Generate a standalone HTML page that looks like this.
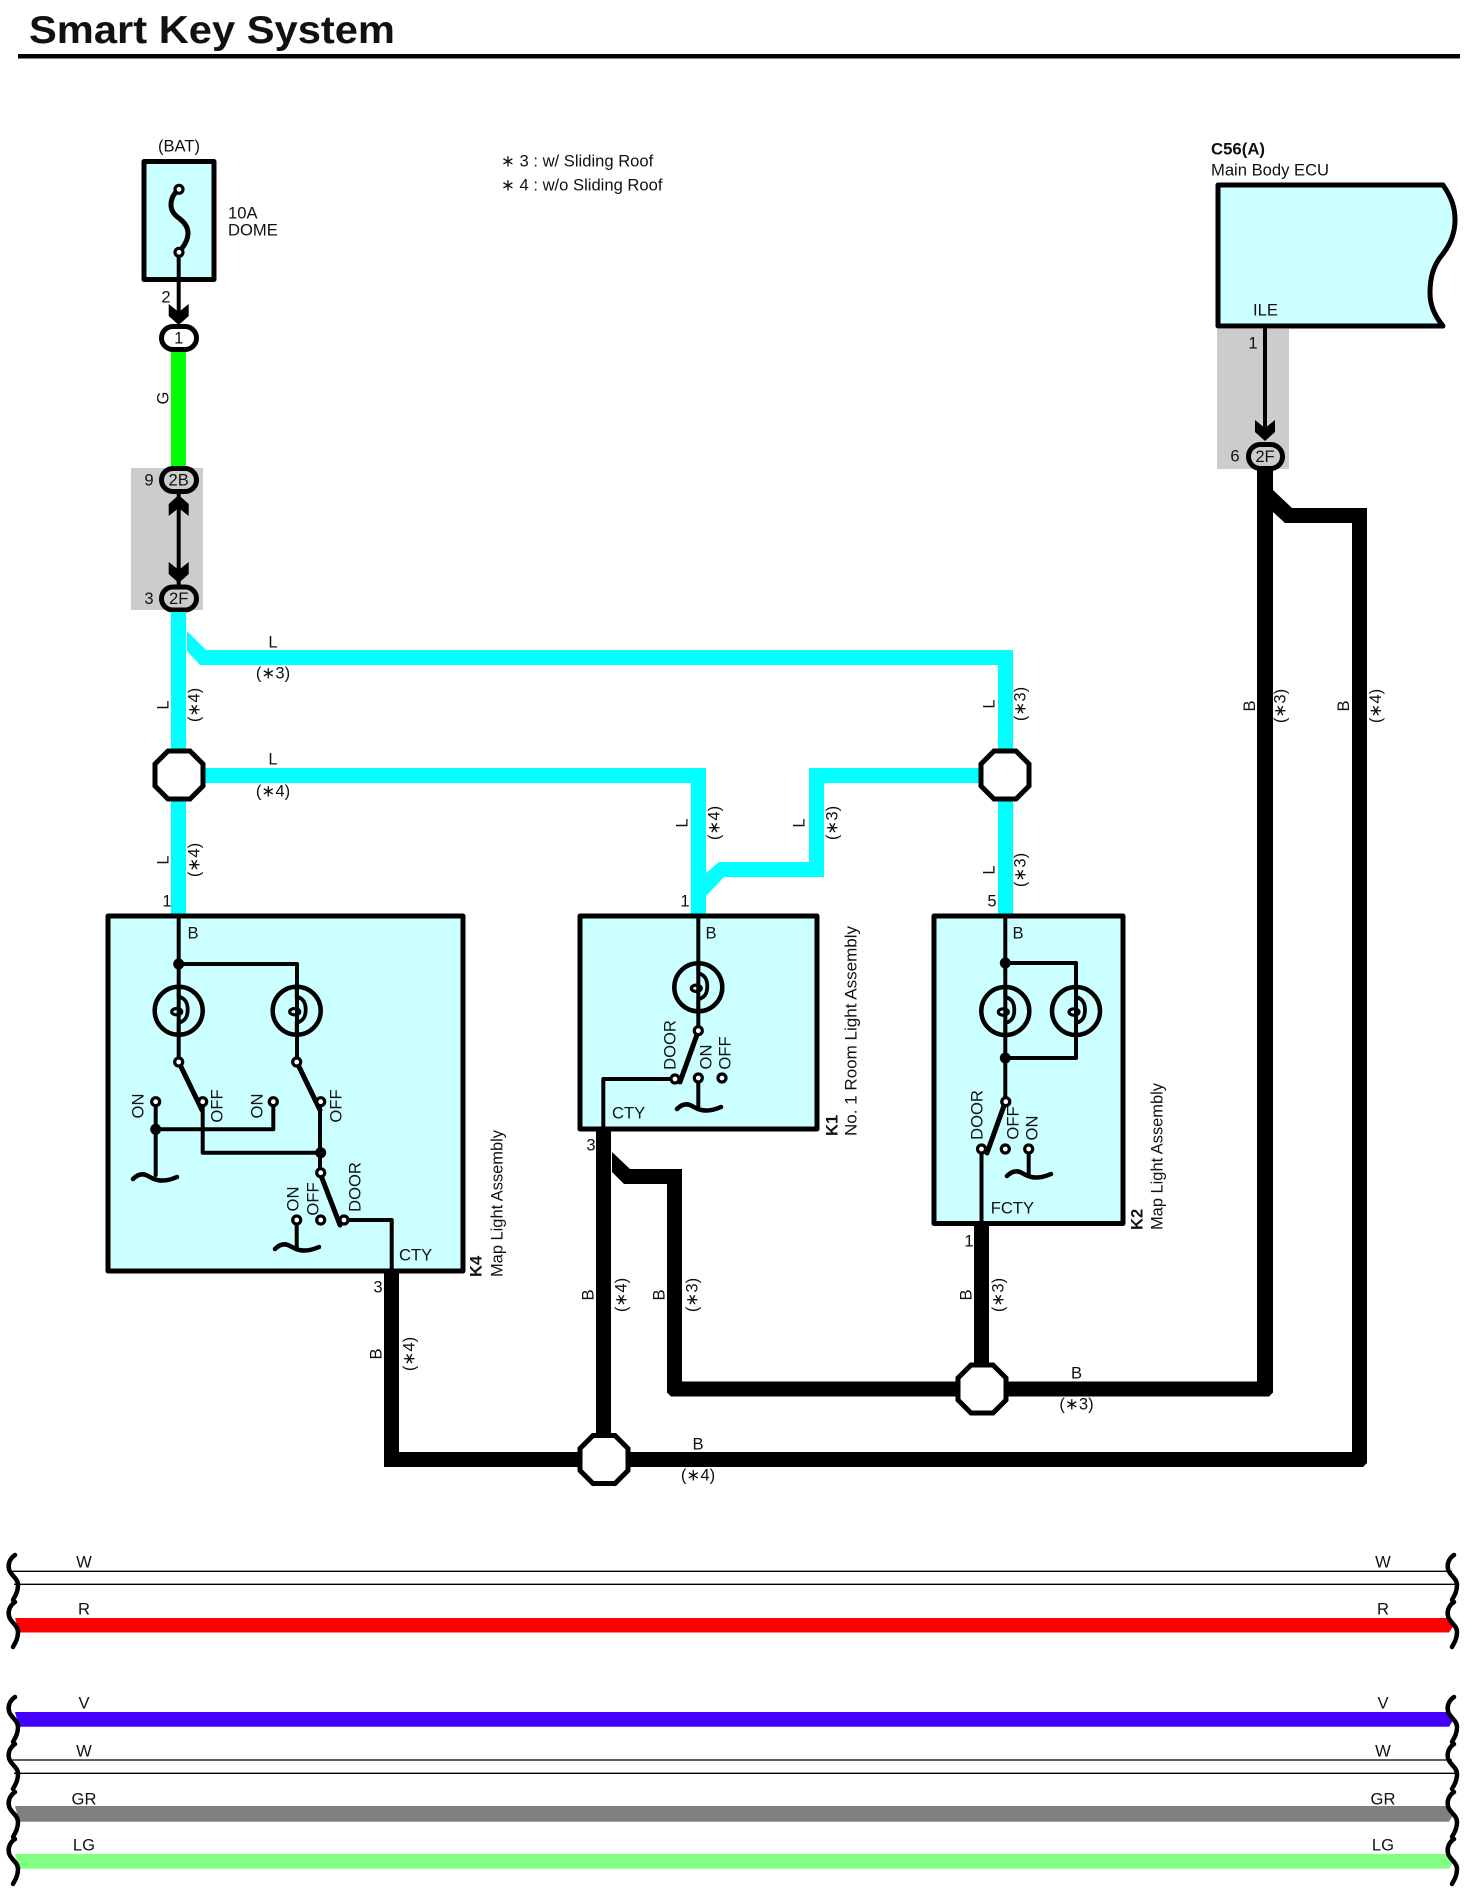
<!DOCTYPE html>
<html><head><meta charset="utf-8"><title>Smart Key System</title>
<style>
html,body{margin:0;padding:0;background:#fff}
svg{display:block}
text{font-family:"Liberation Sans",Arial,sans-serif;font-size:16.6px;fill:#111}
.c{text-anchor:middle;dominant-baseline:central}
.l{dominant-baseline:central}
.b{font-weight:bold}
.k{fill:none;stroke:#000;stroke-width:4;stroke-linejoin:round;stroke-linecap:round}
.box{fill:#ccffff;stroke:#000;stroke-width:5;stroke-linejoin:round}
.t{fill:#fff;stroke:#000;stroke-width:3.2}
.ov{fill:#fff;stroke:#000;stroke-width:5}
.ovg{fill:#ccc;stroke:#000;stroke-width:5}
.oct{fill:#fff;stroke:#000;stroke-width:5}
</style></head><body>
<svg width="1473" height="1902" viewBox="0 0 1473 1902" xmlns="http://www.w3.org/2000/svg">
<defs>
<g id="lamp"><circle r="24" fill="none" stroke="#000" stroke-width="4.5"/>
<path d="M0,-24V-14C8,-12 9,-6 9,-1S8,10 0,12V24" fill="none" stroke="#000" stroke-width="3.8"/>
<ellipse cx="-2" cy="1" rx="5" ry="3.2" fill="none" stroke="#000" stroke-width="3.2"/></g>
<path id="gnd" d="M0,4C5,-1 10,-2 15,1S28,9 44,2" fill="none" stroke="#000" stroke-width="4.5" stroke-linecap="round"/>
<path id="brace" d="M15,1555C9,1559 8,1565 9,1569C10,1575 18,1578 18,1585C18,1592 15,1596 13,1600" fill="none" stroke="#000" stroke-width="4.5" stroke-linecap="round"/>
<polygon id="arrow" points="-10,-11 0,-3 10,-11 10,1 0,10 -10,1"/>
<polygon id="octa" points="-11,-24 11,-24 24,-11 24,11 11,24 -11,24 -24,11 -24,-11"/>
</defs>

<!-- title -->
<text x="29" y="43" class="b" style="font-size:39px" textLength="366" lengthAdjust="spacingAndGlyphs">Smart Key System</text>
<rect x="18" y="54" width="1442" height="4.5" fill="#000"/>

<!-- grey connector zones -->
<rect x="131" y="468" width="72" height="142" fill="#ccc"/>
<rect x="1217" y="329" width="72" height="140" fill="#ccc"/>

<!-- fuse -->
<text x="179" y="146" class="c">(BAT)</text>
<rect x="144" y="161.5" width="70" height="118" class="box"/>
<path d="M179,189.3C173,194 171,199 171,205C171,212 176,216 180,219C185,223 188,228 188,233C188,241 183,247 179,252.3" fill="none" stroke="#000" stroke-width="5"/>
<path d="M178.7,252V318" class="k"/>
<circle cx="179" cy="189.3" r="4" class="t"/><circle cx="179" cy="252.3" r="4" class="t"/>
<use href="#arrow" transform="translate(178.7,315)"/>
<text x="228" y="213" class="l">10A</text>
<text x="228" y="230" class="l">DOME</text>
<text x="166" y="297" class="c">2</text>

<!-- green wire + connectors -->
<rect x="171" y="351" width="15" height="117" fill="#00ff00"/>
<rect x="161.5" y="326.5" width="35" height="23" rx="11.5" class="ov"/>
<text x="178.7" y="338" class="c">1</text>
<text transform="rotate(-90 163 398)" x="163" y="398" class="c">G</text>
<path d="M178.7,490V590" class="k"/>
<use href="#arrow" transform="translate(178.7,505) scale(1,-1)"/>
<use href="#arrow" transform="translate(178.7,573)"/>
<rect x="161.5" y="468.5" width="35" height="23" rx="11.5" class="ovg"/>
<text x="178.7" y="480" class="c">2B</text>
<rect x="161.5" y="587" width="35" height="23" rx="11.5" class="ovg"/>
<text x="178.7" y="598.5" class="c">2F</text>
<text x="149" y="480" class="c">9</text>
<text x="149" y="598.5" class="c">3</text>

<!-- notes -->
<text x="501" y="161" class="l">∗ 3 : w/ Sliding Roof</text>
<text x="501" y="185" class="l">∗ 4 : w/o Sliding Roof</text>

<!-- cyan wires -->
<g fill="#00ffff">
<rect x="171" y="612" width="15" height="303"/>
<polygon points="187,631 206,650 1013,650 1013,750 998,750 998,665 200,665 187,651"/>
<rect x="998" y="800" width="15" height="115"/>
<path d="M200,768H706V915H691V783H200Z"/>
<polygon points="706,873 719,862 809,862 809,768 985,768 985,783 824,783 824,877 724,877 706,896"/>
</g>
<use href="#octa" transform="translate(179,775)" class="oct"/>
<use href="#octa" transform="translate(1005,775)" class="oct"/>

<text x="273" y="642" class="c">L</text><text x="273" y="673" class="c">(∗3)</text>
<text x="273" y="759" class="c">L</text><text x="273" y="791" class="c">(∗4)</text>
<text transform="rotate(-90 163 705)" x="163" y="705" class="c">L</text>
<text transform="rotate(-90 194 705)" x="194" y="705" class="c">(∗4)</text>
<text transform="rotate(-90 163 860)" x="163" y="860" class="c">L</text>
<text transform="rotate(-90 194 860)" x="194" y="860" class="c">(∗4)</text>
<text transform="rotate(-90 682 823)" x="682" y="823" class="c">L</text>
<text transform="rotate(-90 714 823)" x="714" y="823" class="c">(∗4)</text>
<text transform="rotate(-90 799 823)" x="799" y="823" class="c">L</text>
<text transform="rotate(-90 832 823)" x="832" y="823" class="c">(∗3)</text>
<text transform="rotate(-90 989 704)" x="989" y="704" class="c">L</text>
<text transform="rotate(-90 1020 704)" x="1020" y="704" class="c">(∗3)</text>
<text transform="rotate(-90 989 870)" x="989" y="870" class="c">L</text>
<text transform="rotate(-90 1020 870)" x="1020" y="870" class="c">(∗3)</text>
<text x="167" y="901" class="c">1</text><text x="685" y="901" class="c">1</text><text x="992" y="901" class="c">5</text>

<!-- black wires -->
<g fill="#000">
<rect x="384" y="1271" width="15" height="196"/>
<rect x="596" y="1129" width="15" height="315"/>
<polygon points="612,1152 630,1169 682,1169 682,1381.5 960,1381.5 960,1396.5 671,1396.5 667,1392.5 667,1184 624,1184 612,1172"/>
<rect x="974" y="1223" width="15" height="145"/>
<polygon points="1000,1381.5 1257,1381.5 1257,470 1273,470 1273,1392.5 1269,1396.5 1000,1396.5"/>
<polygon points="1273,490 1292,508 1367,508 1367,1463 1363,1467 1352,1467 1352,523 1285,523 1273,512"/>
<polygon points="388,1467 384,1463 384,1452 1360,1452 1360,1467"/>
</g>
<use href="#octa" transform="translate(982,1389)" class="oct"/>
<use href="#octa" transform="translate(604,1459.5)" class="oct"/>

<text transform="rotate(-90 376 1354)" x="376" y="1354" class="c">B</text>
<text transform="rotate(-90 409 1354)" x="409" y="1354" class="c">(∗4)</text>
<text transform="rotate(-90 588 1295)" x="588" y="1295" class="c">B</text>
<text transform="rotate(-90 621 1295)" x="621" y="1295" class="c">(∗4)</text>
<text transform="rotate(-90 659 1295)" x="659" y="1295" class="c">B</text>
<text transform="rotate(-90 692 1295)" x="692" y="1295" class="c">(∗3)</text>
<text transform="rotate(-90 966 1295)" x="966" y="1295" class="c">B</text>
<text transform="rotate(-90 998 1295)" x="998" y="1295" class="c">(∗3)</text>
<text x="1076.5" y="1373" class="c">B</text><text x="1076.5" y="1404" class="c">(∗3)</text>
<text x="698" y="1444" class="c">B</text><text x="698" y="1475" class="c">(∗4)</text>
<text transform="rotate(-90 1249.5 706)" x="1249.5" y="706" class="c">B</text>
<text transform="rotate(-90 1280 706)" x="1280" y="706" class="c">(∗3)</text>
<text transform="rotate(-90 1343.5 706)" x="1343.5" y="706" class="c">B</text>
<text transform="rotate(-90 1375.5 706)" x="1375.5" y="706" class="c">(∗4)</text>

<!-- ECU -->
<text x="1211" y="149" class="l b" textLength="54" lengthAdjust="spacingAndGlyphs">C56(A)</text>
<text x="1211" y="170" class="l">Main Body ECU</text>
<path d="M1218,185H1443C1452,198 1455,208 1455,220C1455,233 1450,245 1442,255C1433,266 1430,278 1430,293C1430,306 1435,316 1443,326H1218Z" class="box"/>
<text x="1253" y="310" class="l">ILE</text>
<text x="1253" y="343" class="c">1</text>
<path d="M1265,328V435" class="k"/>
<use href="#arrow" transform="translate(1265,431)"/>
<rect x="1248.5" y="444.5" width="34" height="24" rx="12" class="ovg"/>
<text x="1265" y="456.5" class="c">2F</text>
<text x="1235" y="456" class="c">6</text>

<!-- K4 -->
<rect x="108" y="916" width="355" height="355" class="box"/>
<g class="k">
<path d="M178.7,916V1062M178.7,964H297V1062"/>
<path d="M155.7,1102V1175M155.7,1129.3H273.3V1102"/>
<path d="M202.7,1102V1152.7H320.7M320,1102V1173"/>
<path d="M344,1220H391.7V1271"/>
<path d="M296.7,1220V1247"/>
<path d="M178.7,1062L202,1110M296.7,1062L320,1110M320,1173L340,1225" stroke-width="5"/>
</g>
<circle cx="178.7" cy="964" r="5.5"/><circle cx="155.7" cy="1129.3" r="5.5"/><circle cx="320.7" cy="1152.7" r="5.5"/>
<use href="#lamp" x="178.7" y="1010.7"/><use href="#lamp" x="296.7" y="1010.7"/>
<g class="t">
<circle cx="178.7" cy="1062" r="4"/><circle cx="296.7" cy="1062" r="4"/>
<circle cx="155.7" cy="1101.7" r="4"/><circle cx="202.7" cy="1101.7" r="4"/>
<circle cx="273.3" cy="1101.7" r="4"/><circle cx="320.7" cy="1101.7" r="4"/>
<circle cx="320.7" cy="1172.7" r="4"/><circle cx="344" cy="1220" r="4"/>
<circle cx="296.7" cy="1220" r="4"/><circle cx="320.7" cy="1220" r="4"/>
</g>
<use href="#gnd" x="133" y="1175"/><use href="#gnd" x="275" y="1245"/>
<text x="193" y="933" class="c">B</text>
<text transform="rotate(-90 138 1106)" x="138" y="1106" class="c">ON</text>
<text transform="rotate(-90 217 1106)" x="217" y="1106" class="c">OFF</text>
<text transform="rotate(-90 257 1106)" x="257" y="1106" class="c">ON</text>
<text transform="rotate(-90 336 1106)" x="336" y="1106" class="c">OFF</text>
<text transform="rotate(-90 355 1187)" x="355" y="1187" class="c">DOOR</text>
<text transform="rotate(-90 293 1199)" x="293" y="1199" class="c">ON</text>
<text transform="rotate(-90 313 1199)" x="313" y="1199" class="c">OFF</text>
<text x="399" y="1255" class="l">CTY</text>
<text x="378" y="1287" class="c">3</text>
<text transform="rotate(-90 476 1277)" x="476" y="1277" class="l b">K4</text>
<text transform="rotate(-90 497 1277)" x="497" y="1277" class="l" textLength="147" lengthAdjust="spacingAndGlyphs">Map Light Assembly</text>

<!-- K1 -->
<rect x="580" y="916" width="237" height="213" class="box"/>
<g class="k">
<path d="M698.3,916V1031"/>
<path d="M675,1079H603.3V1129"/>
<path d="M698.3,1078V1107"/>
<path d="M698.3,1031L680,1082" stroke-width="5"/>
</g>
<use href="#lamp" x="698.3" y="987.3"/>
<g class="t">
<circle cx="698.3" cy="1030.7" r="4"/><circle cx="675" cy="1079" r="4"/>
<circle cx="698.3" cy="1078" r="4"/><circle cx="722" cy="1078" r="4"/>
</g>
<use href="#gnd" x="677" y="1105"/>
<text x="711" y="933" class="c">B</text>
<text transform="rotate(-90 670 1045)" x="670" y="1045" class="c">DOOR</text>
<text transform="rotate(-90 706 1057)" x="706" y="1057" class="c">ON</text>
<text transform="rotate(-90 725 1053)" x="725" y="1053" class="c">OFF</text>
<text x="612" y="1113" class="l">CTY</text>
<text x="591" y="1145" class="c">3</text>
<text transform="rotate(-90 832 1136)" x="832" y="1136" class="l b">K1</text>
<text transform="rotate(-90 851 1136)" x="851" y="1136" class="l" textLength="210" lengthAdjust="spacingAndGlyphs">No.  1 Room Light Assembly</text>

<!-- K2 -->
<rect x="934" y="916" width="189" height="307.5" class="box"/>
<g class="k">
<path d="M1005.3,916V1102M1005.3,963H1076V1058H1005.3"/>
<path d="M981.5,1149V1223"/>
<path d="M1028.7,1149V1175"/>
<path d="M1005.3,1102L987,1153" stroke-width="5"/>
</g>
<circle cx="1005.3" cy="963" r="5.5"/><circle cx="1005.3" cy="1058" r="5.5"/>
<use href="#lamp" x="1005.3" y="1011"/><use href="#lamp" x="1076" y="1011"/>
<g class="t">
<circle cx="1005.8" cy="1101.7" r="4"/><circle cx="981.5" cy="1149" r="4"/>
<circle cx="1005.3" cy="1149" r="4"/><circle cx="1028.7" cy="1149" r="4"/>
</g>
<use href="#gnd" x="1007" y="1172"/>
<text x="1018" y="933" class="c">B</text>
<text transform="rotate(-90 977 1115)" x="977" y="1115" class="c">DOOR</text>
<text transform="rotate(-90 1013 1123)" x="1013" y="1123" class="c">OFF</text>
<text transform="rotate(-90 1032 1128)" x="1032" y="1128" class="c">ON</text>
<text x="990.7" y="1208" class="l">FCTY</text>
<text x="969" y="1241" class="c">1</text>
<text transform="rotate(-90 1137 1230)" x="1137" y="1230" class="l b">K2</text>
<text transform="rotate(-90 1157 1230)" x="1157" y="1230" class="l" textLength="147" lengthAdjust="spacingAndGlyphs">Map Light Assembly</text>

<!-- bottom bus -->
<g stroke="#000" stroke-width="1.3">
<path d="M12,1571.3H1452M14,1584.3H1458M12,1760H1452M14,1773.3H1458"/>
</g>
<polygon points="15,1618 1449,1618 1454,1625 1449,1632.5 19,1632.5" fill="#ff0000"/>
<polygon points="15,1712 1449,1712 1454,1719 1449,1726.7 19,1726.7" fill="#4400ff"/>
<polygon points="15,1806 1449,1806 1454,1814 1449,1821.7 19,1821.7" fill="#808080"/>
<polygon points="15,1854 1449,1854 1454,1861 1449,1868.7 19,1868.7" fill="#80ff80"/>
<g>
<use href="#brace"/><use href="#brace" y="47"/><use href="#brace" y="142"/><use href="#brace" y="189"/><use href="#brace" y="237"/><use href="#brace" y="284"/>
<use href="#brace" x="1439"/><use href="#brace" x="1439" y="47"/><use href="#brace" x="1439" y="142"/><use href="#brace" x="1439" y="189"/><use href="#brace" x="1439" y="237"/><use href="#brace" x="1439" y="284"/>
</g>
<text x="84" y="1562" class="c">W</text><text x="1383" y="1562" class="c">W</text>
<text x="84" y="1609" class="c">R</text><text x="1383" y="1609" class="c">R</text>
<text x="84" y="1703" class="c">V</text><text x="1383" y="1703" class="c">V</text>
<text x="84" y="1751" class="c">W</text><text x="1383" y="1751" class="c">W</text>
<text x="84" y="1799" class="c">GR</text><text x="1383" y="1799" class="c">GR</text>
<text x="84" y="1845" class="c">LG</text><text x="1383" y="1845" class="c">LG</text>
</svg>
</body></html>
